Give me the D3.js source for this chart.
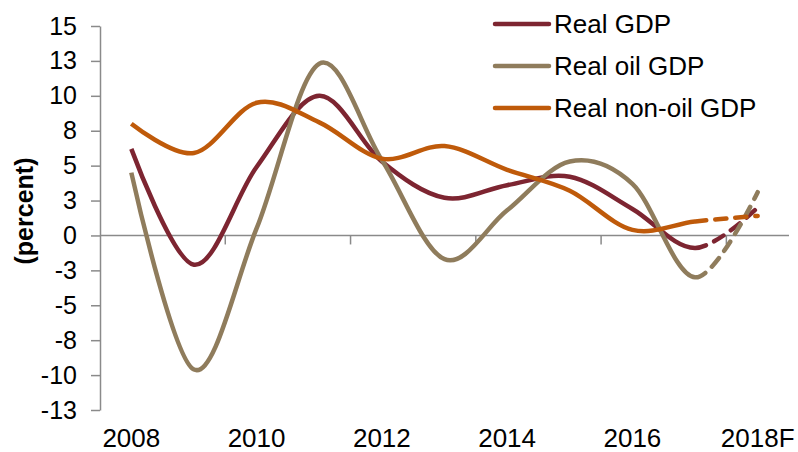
<!DOCTYPE html>
<html>
<head>
<meta charset="utf-8">
<script src="https://cdn.jsdelivr.net/npm/d3@7"></script>
<style>
  body { margin: 0; background: #fff; }
  text { font-family: "Liberation Sans", Arial, sans-serif; fill: #000; }
</style>
</head>
<body>
<div id="wrapper"></div>
<script>
// data
const years = ["2008", "2009", "2010", "2011", "2012", "2013", "2014", "2015", "2016", "2017", "2018F"]
const realGDP = [6.2, -2.1, 4.9, 10.0, 5.3, 2.7, 3.6, 4.2, 1.9, -0.9, 2.0]
const realOilGDP = [4.5, -9.6, 0.5, 12.3, 5.4, -1.7, 1.8, 5.3, 3.7, -3.0, 3.1]
const realNonOilGDP = [8.0, 5.9, 9.5, 8.1, 5.5, 6.4, 4.7, 3.2, 0.4, 1.0, 1.4]
const seriesNames = ["Real GDP", "Real oil GDP", "Real non-oil GDP"]
const seriesColors = ["#7d2531", "#8f7c5c", "#bf5a0a"]
const yTickValues = [15, 12.5, 10, 7.5, 5, 2.5, 0, -2.5, -5, -7.5, -10, -12.5]
const yTickLabels = ["15", "13", "10", "8", "5", "3", "0", "-3", "-5", "-8", "-10", "-13"]
const xTickLabels = ["2008", "2010", "2012", "2014", "2016", "2018F"]
const forecastFrom = "2017"

const series = [realGDP, realOilGDP, realNonOilGDP]

const dimensions = {
  width: 798,
  height: 452,
  margin: { top: 26, right: 9, bottom: 42, left: 100 },
}
dimensions.boundedWidth = dimensions.width - dimensions.margin.left - dimensions.margin.right
dimensions.boundedHeight = dimensions.height - dimensions.margin.top - dimensions.margin.bottom

const svg = d3.select("#wrapper")
  .append("svg")
  .attr("width", dimensions.width)
  .attr("height", dimensions.height)

const bounds = svg.append("g")
  .attr("transform", `translate(${dimensions.margin.left},${dimensions.margin.top})`)

// scales
const xScale = d3.scalePoint()
  .domain(years)
  .range([0, dimensions.boundedWidth])
  .padding(0.5)
const yScale = d3.scaleLinear()
  .domain([-12.5, 15])
  .range([dimensions.boundedHeight, 0])

const axisColor = "#8a8a8a"
const step = xScale.step()

// y axis
const yAxis = bounds.append("g")
  .call(d3.axisLeft(yScale)
    .tickValues(yTickValues)
    .tickFormat((d, i) => yTickLabels[i])
    .tickSize(9)
    .tickSizeOuter(0)
    .tickPadding(14))
yAxis.select(".domain").attr("stroke", axisColor).attr("stroke-width", 1.5)
yAxis.selectAll(".tick line").attr("stroke", axisColor).attr("stroke-width", 1.5)
yAxis.selectAll(".tick text")
  .attr("font-size", 25)
  .attr("font-family", "Liberation Sans, Arial, sans-serif")
  .attr("fill", "#000")

// zero line with ticks between every two categories
bounds.append("line")
  .attr("x1", 0)
  .attr("x2", dimensions.boundedWidth)
  .attr("y1", yScale(0))
  .attr("y2", yScale(0))
  .attr("stroke", axisColor)
  .attr("stroke-width", 1.5)
bounds.selectAll(".zero-tick")
  .data(years.filter((d, i) => i > 0 && i % 2 === 0))
  .join("line")
  .attr("class", "zero-tick")
  .attr("x1", d => xScale(d) - step / 2)
  .attr("x2", d => xScale(d) - step / 2)
  .attr("y1", yScale(0))
  .attr("y2", yScale(0) + 9)
  .attr("stroke", axisColor)
  .attr("stroke-width", 1.5)

// x labels at the bottom
bounds.selectAll(".x-label")
  .data(xTickLabels)
  .join("text")
  .attr("class", "x-label")
  .attr("x", d => xScale(d))
  .attr("y", dimensions.boundedHeight + 37)
  .attr("text-anchor", "middle")
  .attr("font-size", 26)
  .text(d => d)

// y label
svg.append("text")
  .attr("transform", `translate(33, 211) rotate(-90)`)
  .attr("text-anchor", "middle")
  .attr("font-size", 25)
  .attr("font-weight", "bold")
  .text("(percent)")

// clips: solid up to the last actual year, dashed for the forecast
const xSplit = xScale(forecastFrom)
const defs = svg.append("defs")
defs.append("clipPath").attr("id", "clip-solid")
  .append("rect")
  .attr("x", -50).attr("y", -50)
  .attr("width", xSplit + 50)
  .attr("height", dimensions.boundedHeight + 100)
defs.append("clipPath").attr("id", "clip-dash")
  .append("rect")
  .attr("x", xSplit).attr("y", -50)
  .attr("width", dimensions.boundedWidth - xSplit + 50)
  .attr("height", dimensions.boundedHeight + 100)

const lineGenerator = d3.line()
  .x((d, i) => xScale(years[i]))
  .y(d => yScale(d))
  .curve(d3.curveCatmullRom.alpha(0))

// length along a path where x reaches target
function lengthAtX(node, target) {
  let lo = 0
  let hi = node.getTotalLength()
  for (let k = 0; k < 40; k++) {
    const mid = (lo + hi) / 2
    if (node.getPointAtLength(mid).x < target) lo = mid
    else hi = mid
  }
  return lo
}

series.forEach((values, i) => {
  bounds.append("path")
    .attr("d", lineGenerator(values))
    .attr("fill", "none")
    .attr("stroke", seriesColors[i])
    .attr("stroke-width", 4.5)
    .attr("stroke-linejoin", "round")
    .attr("clip-path", "url(#clip-solid)")

  const dashed = bounds.append("path")
    .attr("d", lineGenerator(values))
    .attr("fill", "none")
    .attr("stroke", seriesColors[i])
    .attr("stroke-width", 4.5)
    .attr("stroke-linecap", "round")
    .attr("stroke-dasharray", "11,9")
    .attr("clip-path", "url(#clip-dash)")
  const startLen = lengthAtX(dashed.node(), xSplit)
  dashed.attr("stroke-dashoffset", -startLen)
})

// legend
const legend = svg.append("g")
  .attr("transform", "translate(495, 24)")
const legendItems = legend.selectAll("g")
  .data(seriesNames)
  .join("g")
  .attr("transform", (d, i) => `translate(0, ${i * 42})`)
legendItems.append("line")
  .attr("x1", 0)
  .attr("x2", 54)
  .attr("stroke", (d, i) => seriesColors[i])
  .attr("stroke-width", 4.5)
  .attr("stroke-linecap", "round")
legendItems.append("text")
  .attr("x", 59)
  .attr("dy", "0.35em")
  .attr("font-size", 26)
  .text(d => d)
</script>
</body>
</html>
